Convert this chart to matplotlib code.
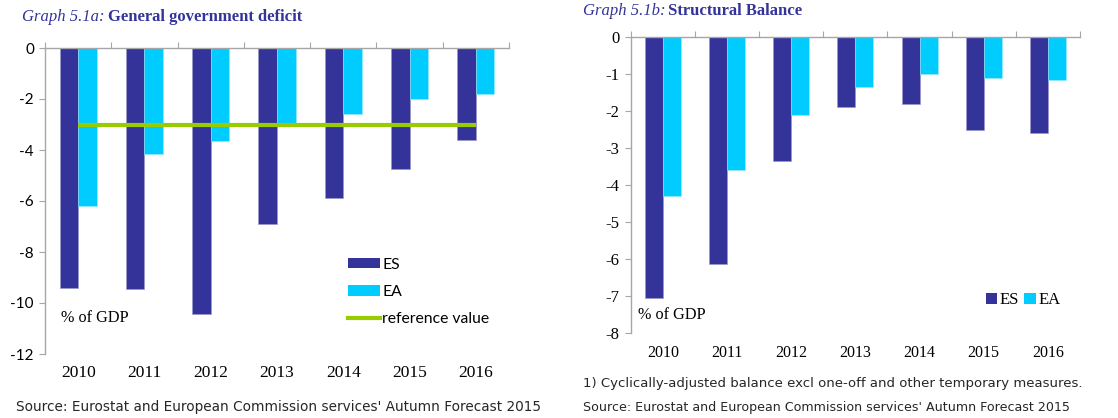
import matplotlib
matplotlib.use("Agg")
import matplotlib.pyplot as plt
import numpy as np
from matplotlib.patches import Patch
from matplotlib.lines import Line2D

years = ["2010", "2011", "2012", "2013", "2014", "2015", "2016"]
deficit_es = [-9.4, -9.45, -10.45, -6.9, -5.9, -4.75, -3.6]
deficit_ea = [-6.2, -4.15, -3.65, -2.95, -2.6, -2.0, -1.8]
reference_value = -3.0
struct_es = [-7.05, -6.15, -3.35, -1.9, -1.8, -2.5, -2.6]
struct_ea = [-4.3, -3.6, -2.1, -1.35, -1.0, -1.1, -1.15]

C_ES = "#333399"
C_EA = "#00CCFF"
C_REF = "#99CC00"
C_AX = "#A6A6A6"
SERIF = ["Liberation Serif", "DejaVu Serif"]
SANS = ["Lato", "DejaVu Sans"]

W, H = 1118, 418
fig = plt.figure(figsize=(W / 100, H / 100), dpi=100)


def px_axes(x0, y0, x1, y1):
    return fig.add_axes([x0 / W, 1 - y1 / H, (x1 - x0) / W, (y1 - y0) / H])


def style_axes(ax, ymin, yticks, ytickfont, ytick_size, xtick_size, xpad):
    n = len(years)
    x = np.arange(n)
    ax.set_xlim(-0.5, n - 0.5)
    ax.set_ylim(ymin, 0)
    for s in ["right", "bottom"]:
        ax.spines[s].set_visible(False)
    for s in ["left", "top"]:
        ax.spines[s].set_color(C_AX)
        ax.spines[s].set_linewidth(1.0)
    ax.set_xticks(np.arange(n + 1) - 0.5)
    ax.set_xticks(x, minor=True)
    ax.set_xticklabels(years, minor=True, fontfamily=SERIF, fontsize=xtick_size)
    ax.tick_params(axis="x", which="major", top=True, bottom=False, labelbottom=False,
                   labeltop=False, direction="out", length=4, color=C_AX)
    ax.tick_params(axis="x", which="minor", top=False, bottom=True, length=0,
                   labelbottom=True, pad=xpad)
    ax.set_yticks(yticks)
    ax.set_yticklabels([str(v) for v in yticks], fontfamily=ytickfont, fontsize=ytick_size)
    ax.tick_params(axis="y", direction="out", length=4, color=C_AX, pad=4)
    return x


# ---------- Left chart ----------
axL = px_axes(45, 48, 509, 354)
x = style_axes(axL, -12, [0, -2, -4, -6, -8, -10, -12], SANS, 11, 12.5, 8)
bw = 0.28
axL.bar(x - bw / 2, deficit_es, bw, color=C_ES, edgecolor="#9999cc", linewidth=0.4, zorder=2)
axL.bar(x + bw / 2, deficit_ea, bw, color=C_EA, edgecolor="#99e6ff", linewidth=0.4, zorder=2)
axL.plot([x[0], x[-1]], [reference_value, reference_value], color=C_REF, lw=3, zorder=3,
         solid_capstyle="butt")
axL.text(0.034, 0.118, "% of GDP", transform=axL.transAxes, fontfamily=SERIF,
         fontsize=11.7, va="center", ha="left")
handlesL = [Patch(facecolor=C_ES), Patch(facecolor=C_EA), Line2D([], [], color=C_REF, lw=3)]
axL.legend(handlesL, ["ES", "EA", "reference value"], loc="upper left",
           bbox_to_anchor=(0.652, 0.315), frameon=False, prop={"family": SANS, "size": 11.3},
           handlelength=2.05, handleheight=0.62, handletextpad=0.15, labelspacing=0.85,
           borderaxespad=0, borderpad=0)

# ---------- Right chart ----------
axR = px_axes(630.7, 37.3, 1080, 332.7)
x = style_axes(axR, -8, [0, -1, -2, -3, -4, -5, -6, -7, -8], SERIF, 12, 11.5, 9)
axR.bar(x - bw / 2, struct_es, bw, color=C_ES, edgecolor="#9999cc", linewidth=0.4, zorder=2)
axR.bar(x + bw / 2, struct_ea, bw, color=C_EA, edgecolor="#99e6ff", linewidth=0.4, zorder=2)
axR.text(0.016, 0.06, "% of GDP", transform=axR.transAxes, fontfamily=SERIF,
         fontsize=11.7, va="center", ha="left")
handlesR = [Patch(facecolor=C_ES), Patch(facecolor=C_EA)]
axR.legend(handlesR, ["ES", "EA"], loc="center left", bbox_to_anchor=(0.79, 0.11),
           ncol=2, frameon=False, prop={"family": SERIF, "size": 12},
           handlelength=0.7, handleheight=0.7, handletextpad=0.15, columnspacing=0.3,
           borderaxespad=0, borderpad=0)

# ---------- Titles ----------
renderer = fig.canvas.get_renderer()


def title(xp, yp, italic, bold):
    t = fig.text(xp / W, 1 - yp / H, italic, fontfamily=SERIF, fontstyle="italic",
                 fontsize=12, color=C_ES, va="center", ha="left")
    bb = t.get_window_extent(renderer)
    fig.text((bb.x1 + 3) / W, 1 - yp / H, bold, fontfamily=SERIF, fontweight="bold",
             fontsize=12, color=C_ES, va="center", ha="left")


title(22, 17, "Graph 5.1a:", "General government deficit")
title(583, 11, "Graph 5.1b:", "Structural Balance")

# ---------- Footnotes ----------
fig.text(16 / W, 1 - 407 / H, "Source: Eurostat and European Commission services' Autumn Forecast 2015",
         fontfamily="DejaVu Sans", fontsize=9.85, color="#262626", va="center", ha="left")
fig.text(583 / W, 1 - 383 / H, "1) Cyclically-adjusted balance excl one-off and other temporary measures.",
         fontfamily="DejaVu Sans", fontsize=9.5, color="#262626", va="center", ha="left")
fig.text(583 / W, 1 - 408 / H, "Source: Eurostat and European Commission services' Autumn Forecast 2015",
         fontfamily="DejaVu Sans", fontsize=9.1, color="#262626", va="center", ha="left")

fig.savefig("out.png", dpi=100)
